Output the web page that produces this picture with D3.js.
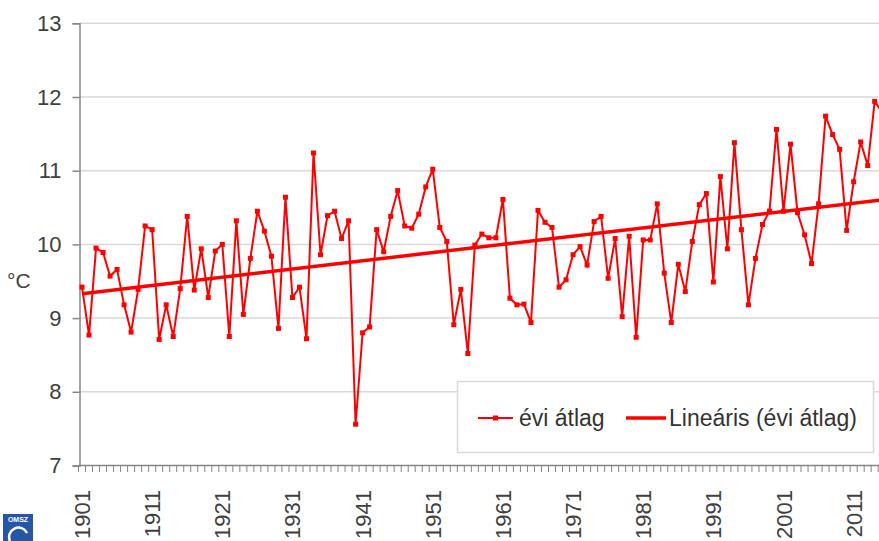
<!DOCTYPE html>
<html>
<head>
<meta charset="utf-8">
<script src="https://cdnjs.cloudflare.com/ajax/libs/d3/7.8.5/d3.min.js"></script>
<style>
body { margin: 0; background: #fff; }
svg { display: block; font-family: "Liberation Sans", Arial, sans-serif; }
</style>
</head>
<body>
<svg id="chart" width="879" height="541"></svg>
<script>
// yearly mean temperature, 1901-2015
var years = d3.range(1901, 2016);
var evi = [
	9.42, 8.77, 9.95, 9.89, 9.57, 9.66, 9.18, 8.81, 9.39, 10.25,
	10.20, 8.71, 9.18, 8.75, 9.40, 10.38, 9.38, 9.94, 9.28, 9.91,
	10.00, 8.75, 10.32, 9.05, 9.81, 10.45, 10.18, 9.84, 8.86, 10.64,
	9.28, 9.42, 8.72, 11.24, 9.86, 10.39, 10.45, 10.08, 10.32, 7.56,
	8.80, 8.88, 10.20, 9.90, 10.38, 10.73, 10.25, 10.22, 10.41, 10.78,
	11.02, 10.23, 10.04, 8.91, 9.39, 8.52, 9.99, 10.14, 10.09, 10.09,
	10.61, 9.27, 9.18, 9.19, 8.94, 10.46, 10.30, 10.23, 9.42, 9.52,
	9.86, 9.97, 9.72, 10.31, 10.38, 9.54, 10.08, 9.02, 10.11, 8.74,
	10.06, 10.06, 10.55, 9.61, 8.94, 9.73, 9.36, 10.04, 10.54, 10.69,
	9.49, 10.92, 9.94, 11.38, 10.20, 9.18, 9.81, 10.27, 10.45, 11.56,
	10.45, 11.36, 10.43, 10.13, 9.74, 10.55, 11.74, 11.49, 11.29, 10.19,
	10.85, 11.39, 11.07, 11.94, 11.80
];
var yTicks = [7, 8, 9, 10, 11, 12, 13];
var xLabels = [1901, 1911, 1921, 1931, 1941, 1951, 1961, 1971, 1981, 1991, 2001, 2011];
var legendNames = ["évi átlag", "Lineáris (évi átlag)"];

var svg = d3.select("#chart");
var red = "#ff0000";

var x = d3.scaleBand().domain(years).range([78.5, 78.5 + years.length * 7.015]);
var y = d3.scaleLinear().domain([7, 13]).range([465.5, 23.3]);
function cx(yr){ return x(yr) + x.bandwidth() / 2; }

var data = years.map(function(yr, i){ return {year: yr, value: evi[i]}; });

// linear trend (least squares)
var mx = d3.mean(data, function(d){ return d.year; });
var my = d3.mean(data, function(d){ return d.value; });
var sxy = d3.sum(data, function(d){ return (d.year - mx) * (d.value - my); });
var sxx = d3.sum(data, function(d){ return (d.year - mx) * (d.year - mx); });
var slope = sxy / sxx;
var icpt = my - slope * mx;

// gridlines
svg.append("g")
	.selectAll("line")
	.data(yTicks.slice(1))
	.enter().append("line")
	.attr("x1", 79.5).attr("x2", 879)
	.attr("y1", function(d){ return y(d); })
	.attr("y2", function(d){ return y(d); })
	.attr("stroke", "#d9d9d9").attr("stroke-width", 1.5);

// y axis
var yAxis = svg.append("g")
	.attr("transform", "translate(79.5,0)")
	.call(d3.axisLeft(y).tickValues(yTicks).tickSize(7).tickPadding(11).tickFormat(d3.format("d")));
yAxis.select(".domain").attr("stroke", "#868686").attr("stroke-width", 1.5);
yAxis.selectAll(".tick line").attr("stroke", "#868686").attr("stroke-width", 1.5);
yAxis.selectAll("text").style("font-size", "22px").attr("fill", "#404040").attr("font-family", "Liberation Sans, Arial, sans-serif");

svg.append("text").attr("x", 7).attr("y", 288).text("°C")
	.style("font-size", "21px").attr("fill", "#404040");

// x axis: a small tick at every category boundary
var xa = svg.append("g");
xa.append("line")
	.attr("x1", 78.5).attr("x2", 879).attr("y1", 465.5).attr("y2", 465.5)
	.attr("stroke", "#868686").attr("stroke-width", 1.5);
xa.selectAll("line.tk")
	.data(years)
	.enter().append("line")
	.attr("class", "tk")
	.attr("x1", function(d){ return x(d); })
	.attr("x2", function(d){ return x(d); })
	.attr("y1", 465.5).attr("y2", 472)
	.attr("stroke", "#868686").attr("stroke-width", 1);
xa.selectAll("text")
	.data(xLabels)
	.enter().append("text")
	.attr("transform", function(d){ return "translate(" + (cx(d) + 8) + ",490) rotate(-90)"; })
	.attr("text-anchor", "end")
	.text(function(d){ return d; })
	.style("font-size", "22px").attr("fill", "#404040");

// series
svg.append("path")
	.datum(data)
	.attr("fill", "none")
	.attr("stroke", red)
	.attr("stroke-width", 2)
	.attr("d", d3.line()
		.x(function(d){ return cx(d.year); })
		.y(function(d){ return y(d.value); }));
svg.append("g")
	.selectAll("rect")
	.data(data)
	.enter().append("rect")
	.attr("x", function(d){ return cx(d.year) - 2.5; })
	.attr("y", function(d){ return y(d.value) - 2.5; })
	.attr("width", 5).attr("height", 5)
	.attr("fill", red);

// trend line
var y0 = years[0], y1 = years[years.length - 1];
svg.append("line")
	.attr("x1", cx(y0)).attr("y1", y(icpt + slope * y0))
	.attr("x2", cx(y1)).attr("y2", y(icpt + slope * y1))
	.attr("stroke", red).attr("stroke-width", 3.5);

// legend
var lg = svg.append("g");
lg.append("rect").attr("x", 457.5).attr("y", 381.5).attr("width", 416).attr("height", 71)
	.attr("fill", "#fff").attr("stroke", "#d9d9d9").attr("stroke-width", 1.5);
lg.append("line").attr("x1", 478).attr("x2", 513).attr("y1", 418).attr("y2", 418)
	.attr("stroke", red).attr("stroke-width", 2);
lg.append("rect").attr("x", 493).attr("y", 415.5).attr("width", 5).attr("height", 5).attr("fill", red);
lg.append("text").attr("x", 519).attr("y", 426).text(legendNames[0])
	.style("font-size", "23px").attr("fill", "#333");
lg.append("line").attr("x1", 626).attr("x2", 666).attr("y1", 418).attr("y2", 418)
	.attr("stroke", red).attr("stroke-width", 3.5);
lg.append("text").attr("x", 669).attr("y", 426).text(legendNames[1])
	.style("font-size", "23px").attr("fill", "#333");

// logo
var logo = svg.append("g");
logo.append("rect").attr("x", 3).attr("y", 514).attr("width", 30).attr("height", 27).attr("fill", "#2458a6");
logo.append("text").attr("x", 18).attr("y", 522).attr("text-anchor", "middle").text("OMSZ")
	.style("font-size", "7px").style("font-weight", "bold").attr("fill", "#fff");
logo.append("path").attr("d", "M10,541 A9,9 0 0 1 27,533").attr("fill", "none")
	.attr("stroke", "#fff").attr("stroke-width", 2.5);
</script>
</body>
</html>
